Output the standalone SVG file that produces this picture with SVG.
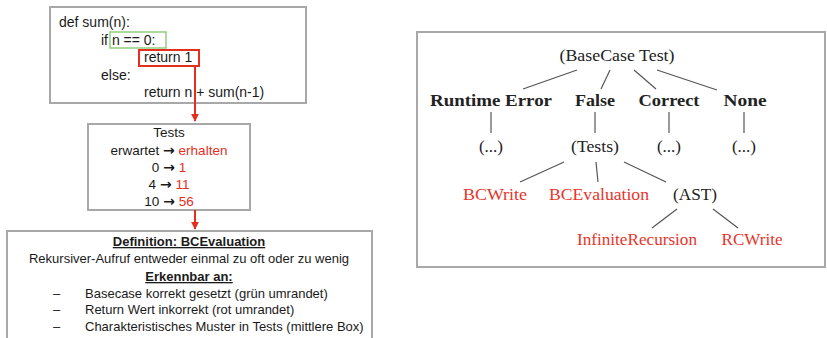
<svg xmlns="http://www.w3.org/2000/svg" width="827" height="338" viewBox="0 0 827 338">
<defs>
<style>
.box{fill:#fff;stroke:#a8a8a8;stroke-width:2}
.code{font-family:"Liberation Sans",Arial,sans-serif;font-size:14px;fill:#1a1a1a}
.cal{font-family:"Liberation Sans",Arial,sans-serif;font-size:13px;fill:#1a1a1a;text-anchor:middle}
.t14{font-size:13.5px}
.ar{font-family:"DejaVu Sans",sans-serif;font-weight:bold;font-size:14px}
.lft{text-anchor:start}
.red{fill:#e62e1f}
.bu{font-weight:bold;text-decoration:underline}
.tree{font-family:"Liberation Serif","Times New Roman",serif;font-size:17px;fill:#222;text-anchor:middle}
.b{font-weight:bold}
.tr{fill:#e8342a}
.edge{stroke:#555;stroke-width:1.2;fill:none}
.arr{stroke:#e62e1f;stroke-width:2;fill:none}
</style>
<marker id="ah" viewBox="0 0 10 10" refX="9" refY="5" markerWidth="4" markerHeight="4" orient="auto" markerUnits="strokeWidth">
<path d="M0,0 L10,5 L0,10 z" fill="#e62e1f"/>
</marker>
</defs>
<rect width="827" height="338" fill="#fff"/>

<g id="code-box">
<rect class="box" x="50" y="7" width="256" height="96"/>
<rect x="110" y="32" width="56" height="16" fill="none" stroke="#8fce7c" stroke-width="1.5"/>
<rect x="139" y="50" width="60" height="16" fill="none" stroke="#e62e1f" stroke-width="2"/>
<text class="code" x="59" y="27">def sum(n):</text>
<text class="code" x="101" y="45">if n == 0:</text>
<text class="code" x="144" y="62">return 1</text>
<text class="code" x="101" y="80">else:</text>
<text class="code" x="144" y="97">return n + sum(n-1)</text>
</g>

<g id="tests-box">
<rect class="box" x="88" y="124" width="162" height="86"/>
<text class="cal t14" x="169" y="137">Tests</text>
<text class="cal t14" x="169" y="155">erwartet <tspan class="ar">→</tspan> <tspan class="red">erhalten</tspan></text>
<text class="cal t14" x="169" y="172">0 <tspan class="ar">→</tspan> <tspan class="red">1</tspan></text>
<text class="cal t14" x="169" y="189">4 <tspan class="ar">→</tspan> <tspan class="red">11</tspan></text>
<text class="cal t14" x="169" y="206">10 <tspan class="ar">→</tspan> <tspan class="red">56</tspan></text>
</g>

<g id="definition-box">
<rect class="box" x="7" y="231" width="365" height="120"/>
<text class="cal bu" x="189" y="246">Definition: BCEvaluation</text>
<text class="cal" x="189" y="263">Rekursiver-Aufruf entweder einmal zu oft oder zu wenig</text>
<text class="cal bu" x="189" y="281">Erkennbar an:</text>
<text class="cal lft" x="53" y="298">–</text>
<text class="cal lft" x="85" y="298">Basecase korrekt gesetzt (grün umrandet)</text>
<text class="cal lft" x="53" y="314">–</text>
<text class="cal lft" x="85" y="314">Return Wert inkorrekt (rot umrandet)</text>
<text class="cal lft" x="53" y="331">–</text>
<text class="cal lft" x="85" y="331">Charakteristisches Muster in Tests (mittlere Box)</text>
</g>

<g id="arrows">
<line class="arr" x1="195" y1="66" x2="195" y2="121" marker-end="url(#ah)"/>
<line class="arr" x1="195" y1="210" x2="195" y2="229" marker-end="url(#ah)"/>
</g>

<g id="tree-frame">
<rect class="box" x="417" y="32" width="408" height="235"/>
</g>

<g id="tree-edges">
<line class="edge" x1="577" y1="70" x2="523" y2="89"/>
<line class="edge" x1="610" y1="70" x2="601" y2="89"/>
<line class="edge" x1="634" y1="70" x2="656" y2="89"/>
<line class="edge" x1="657" y1="70" x2="717" y2="90"/>
<line class="edge" x1="491" y1="112" x2="491" y2="133"/>
<line class="edge" x1="595" y1="112" x2="595" y2="133"/>
<line class="edge" x1="669" y1="112" x2="669" y2="133"/>
<line class="edge" x1="744" y1="112" x2="744" y2="133"/>
<line class="edge" x1="564" y1="162" x2="520" y2="182"/>
<line class="edge" x1="596" y1="162" x2="598" y2="182"/>
<line class="edge" x1="624" y1="162" x2="666" y2="182"/>
<line class="edge" x1="677" y1="209" x2="652" y2="228"/>
<line class="edge" x1="713" y1="209" x2="738" y2="228"/>
</g>

<g id="n-root"><text class="tree" x="617" y="61" textLength="115" lengthAdjust="spacingAndGlyphs">(BaseCase Test)</text></g>
<g id="n-runtime"><text class="tree b" x="491" y="106" textLength="122" lengthAdjust="spacingAndGlyphs">Runtime Error</text></g>
<g id="n-false"><text class="tree b" x="595" y="106" textLength="40" lengthAdjust="spacingAndGlyphs">False</text></g>
<g id="n-correct"><text class="tree b" x="669" y="106" textLength="61" lengthAdjust="spacingAndGlyphs">Correct</text></g>
<g id="n-none"><text class="tree b" x="745" y="106" textLength="43" lengthAdjust="spacingAndGlyphs">None</text></g>
<g id="n-dots1"><text class="tree" x="491" y="152">(...)</text></g>
<g id="n-tests"><text class="tree" x="595" y="152" textLength="48" lengthAdjust="spacingAndGlyphs">(Tests)</text></g>
<g id="n-dots2"><text class="tree" x="669" y="152">(...)</text></g>
<g id="n-dots3"><text class="tree" x="744" y="152">(...)</text></g>
<g id="n-bcwrite"><text class="tree tr" x="495" y="200" textLength="64" lengthAdjust="spacingAndGlyphs">BCWrite</text></g>
<g id="n-bceval"><text class="tree tr" x="599" y="200" textLength="100" lengthAdjust="spacingAndGlyphs">BCEvaluation</text></g>
<g id="n-ast"><text class="tree" x="695" y="200" textLength="44" lengthAdjust="spacingAndGlyphs">(AST)</text></g>
<g id="n-infrec"><text class="tree tr" x="637" y="245" textLength="120" lengthAdjust="spacingAndGlyphs">InfiniteRecursion</text></g>
<g id="n-rcwrite"><text class="tree tr" x="752" y="245" textLength="61" lengthAdjust="spacingAndGlyphs">RCWrite</text></g>
</svg>
